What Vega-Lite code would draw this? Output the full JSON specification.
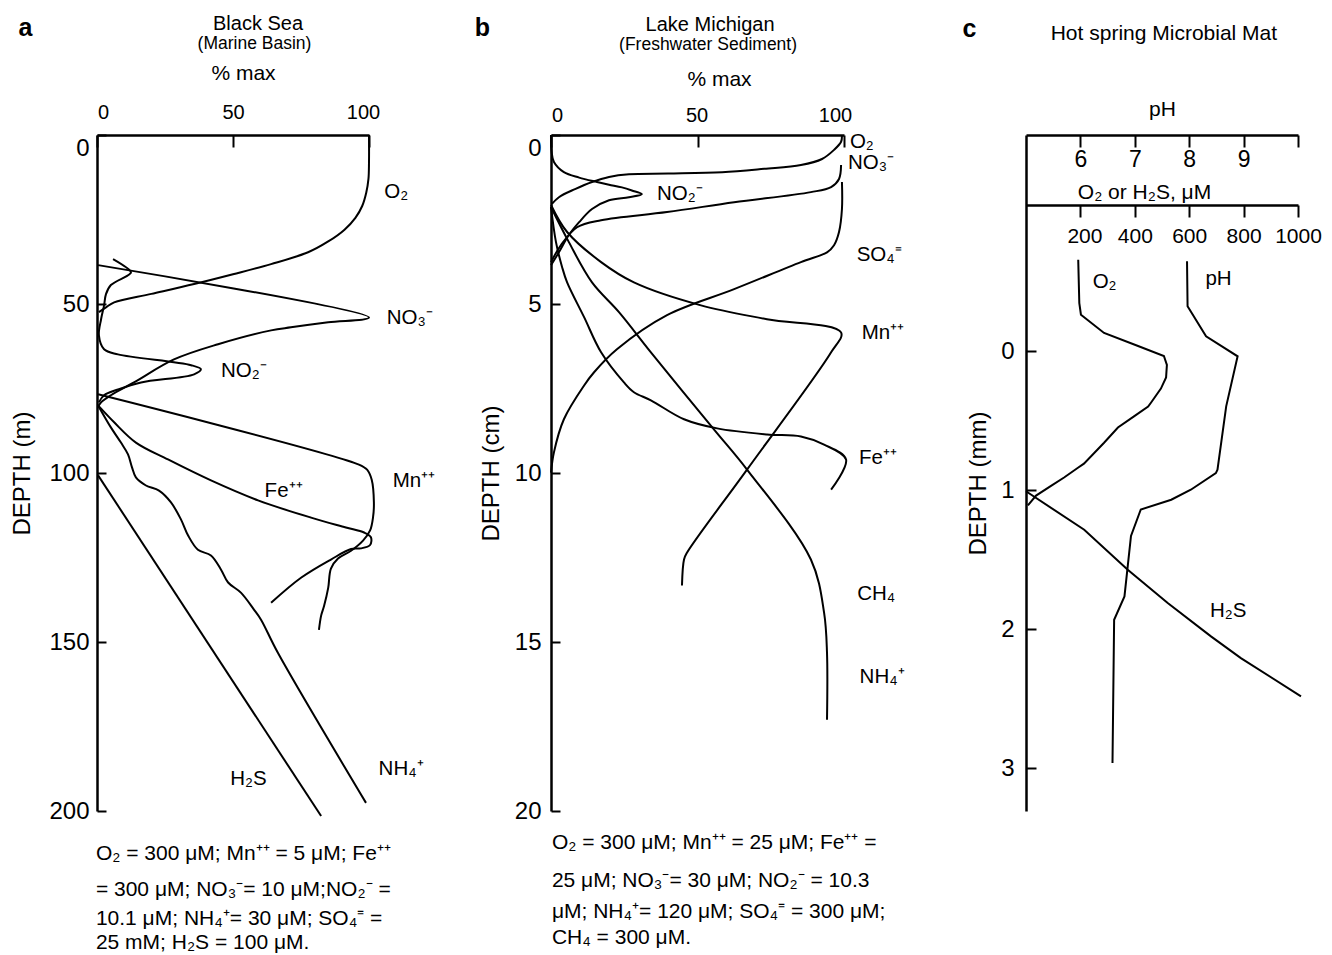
{
"$schema": "https://vega.github.io/schema/vega-lite/v6.json",
"background": "white",
"padding": {"left": 10, "top": 13, "right": 2, "bottom": 2},
"spacing": 182,
"bounds": "flush",
"config": {
  "font": "Liberation Sans",
  "view": {"stroke": null},
  "axis": {"domainColor": "black", "domainWidth": 2.5, "tickColor": "black", "tickWidth": 2, "labelColor": "black", "titleColor": "black", "grid": false, "labelFont": "Liberation Sans", "titleFont": "Liberation Sans", "titleFontWeight": "normal", "minExtent": 0, "labelFlush": false, "labelOverlap": false, "labelBound": false, "format": "d"}
},
"datasets": {
  "a_lines": [
    {"s":"O2","i":1,"x":100,"d":0},{"s":"O2","i":2,"x":100,"d":8},{"s":"O2","i":3,"x":99.8,"d":13},{"s":"O2","i":4,"x":99,"d":17},{"s":"O2","i":5,"x":97.5,"d":21},{"s":"O2","i":6,"x":95,"d":24.5},{"s":"O2","i":7,"x":91,"d":28},{"s":"O2","i":8,"x":85,"d":31.5},{"s":"O2","i":9,"x":77.6,"d":34.7},{"s":"O2","i":10,"x":64,"d":38.2},{"s":"O2","i":11,"x":50,"d":41.2},{"s":"O2","i":12,"x":35.7,"d":44.1},{"s":"O2","i":13,"x":20,"d":47},{"s":"O2","i":14,"x":6.3,"d":49.5},{"s":"O2","i":15,"x":3.3,"d":51},{"s":"O2","i":16,"x":0.7,"d":52.4},
    {"s":"NO3","i":1,"x":0.4,"d":38.5},{"s":"NO3","i":2,"x":100,"d":54},{"s":"NO3","i":3,"x":85,"d":55.4},{"s":"NO3","i":4,"x":71.3,"d":56.9},{"s":"NO3","i":5,"x":64,"d":57.8},{"s":"NO3","i":6,"x":44.5,"d":61.9},{"s":"NO3","i":7,"x":28.3,"d":66.4},{"s":"NO3","i":8,"x":13.6,"d":73.2},{"s":"NO3","i":9,"x":5.1,"d":77},{"s":"NO3","i":10,"x":1.5,"d":79.1},{"s":"NO3","i":11,"x":0.3,"d":80.5},
    {"s":"NO2","i":1,"x":5.9,"d":36.7},{"s":"NO2","i":2,"x":12.5,"d":40.6},{"s":"NO2","i":3,"x":11.4,"d":41.5},{"s":"NO2","i":4,"x":5.1,"d":44.4},{"s":"NO2","i":5,"x":3.3,"d":47.1},{"s":"NO2","i":6,"x":2.6,"d":50.4},{"s":"NO2","i":7,"x":1.5,"d":54.5},{"s":"NO2","i":8,"x":0.7,"d":59.3},{"s":"NO2","i":9,"x":2.6,"d":63.4},{"s":"NO2","i":10,"x":7.7,"d":64.9},{"s":"NO2","i":11,"x":34.6,"d":68.1},{"s":"NO2","i":12,"x":38.2,"d":69.3},{"s":"NO2","i":13,"x":35.7,"d":70.8},{"s":"NO2","i":14,"x":16.2,"d":73.2},{"s":"NO2","i":15,"x":7.7,"d":75.3},{"s":"NO2","i":16,"x":2.6,"d":77},{"s":"NO2","i":17,"x":0.7,"d":79.1},
    {"s":"Mn","i":1,"x":0.4,"d":76.7},{"s":"Mn","i":2,"x":96.3,"d":97.5},{"s":"Mn","i":3,"x":99.3,"d":99},{"s":"Mn","i":4,"x":101,"d":102},{"s":"Mn","i":5,"x":101.8,"d":108.7},{"s":"Mn","i":6,"x":101.5,"d":113},{"s":"Mn","i":7,"x":100.4,"d":117},{"s":"Mn","i":8,"x":97.8,"d":120},{"s":"Mn","i":9,"x":93.4,"d":123},{"s":"Mn","i":10,"x":88.6,"d":125.3},{"s":"Mn","i":11,"x":86,"d":128.3},{"s":"Mn","i":12,"x":85,"d":134},{"s":"Mn","i":13,"x":83.5,"d":139.3},{"s":"Mn","i":14,"x":82.4,"d":142.2},{"s":"Mn","i":15,"x":81.6,"d":146.4},
    {"s":"Fe","i":1,"x":0.4,"d":80},{"s":"Fe","i":2,"x":6.3,"d":85},{"s":"Fe","i":3,"x":14.3,"d":91},{"s":"Fe","i":4,"x":26.1,"d":96},{"s":"Fe","i":5,"x":41.9,"d":102.2},{"s":"Fe","i":6,"x":59.2,"d":108.1},{"s":"Fe","i":7,"x":78.7,"d":113.2},{"s":"Fe","i":8,"x":91.5,"d":116.1},{"s":"Fe","i":9,"x":98.2,"d":117.6},{"s":"Fe","i":10,"x":100.7,"d":119},{"s":"Fe","i":11,"x":100.4,"d":121.3},{"s":"Fe","i":12,"x":97,"d":122.3},{"s":"Fe","i":13,"x":93.4,"d":122.5},{"s":"Fe","i":14,"x":86,"d":125.6},{"s":"Fe","i":15,"x":75,"d":131},{"s":"Fe","i":16,"x":64,"d":138.4},
    {"s":"NH4","i":1,"x":0.4,"d":80},{"s":"NH4","i":2,"x":5.1,"d":86.5},{"s":"NH4","i":3,"x":8.8,"d":91},{"s":"NH4","i":4,"x":11.4,"d":94.5},{"s":"NH4","i":5,"x":12.9,"d":98.4},{"s":"NH4","i":6,"x":14.3,"d":101.3},{"s":"NH4","i":7,"x":18,"d":103.7},{"s":"NH4","i":8,"x":22.8,"d":105.2},{"s":"NH4","i":9,"x":27.2,"d":108.7},{"s":"NH4","i":10,"x":30.9,"d":113.8},{"s":"NH4","i":11,"x":33.5,"d":118.5},{"s":"NH4","i":12,"x":37.1,"d":122.7},{"s":"NH4","i":13,"x":41.9,"d":124.4},{"s":"NH4","i":14,"x":45.6,"d":128.6},{"s":"NH4","i":15,"x":48.2,"d":132.4},{"s":"NH4","i":16,"x":52.9,"d":135.4},{"s":"NH4","i":17,"x":57.7,"d":140.4},{"s":"NH4","i":18,"x":60.3,"d":143.4},{"s":"NH4","i":19,"x":66.5,"d":153.2},{"s":"NH4","i":20,"x":98.9,"d":197.6},
    {"s":"H2S","i":1,"x":0.4,"d":100.7},{"s":"H2S","i":2,"x":82.4,"d":201.5}
  ],
  "a_text": [
    {"k":"lab","t":"O₂","x":110,"d":16.9},
    {"k":"lab","t":"NO₃⁻","x":115,"d":54.2},
    {"k":"lab","t":"NO₂⁻","x":54,"d":69.8},
    {"k":"lab","t":"Mn⁺⁺","x":116.5,"d":102.5},
    {"k":"lab","t":"Fe⁺⁺","x":68.6,"d":105.2},
    {"k":"lab","t":"NH₄⁺","x":111.8,"d":187.6},
    {"k":"lab","t":"H₂S","x":55.7,"d":190.5},
    {"k":"title","t":"Black Sea","x":59.2,"d":-32.9},
    {"k":"sub","t":"(Marine Basin)","x":57.9,"d":-26.96},
    {"k":"letter","t":"a","x":-26.3,"d":-31.7},
    {"k":"note","t":"O₂ = 300 μM; Mn⁺⁺ = 5 μM; Fe⁺⁺","x":-0.4,"d":212.6},
    {"k":"note","t":"= 300 μM; NO₃⁻= 10 μM;NO₂⁻ =","x":-0.4,"d":223.4},
    {"k":"note","t":"10.1 μM; NH₄⁺= 30 μM; SO₄⁼ =","x":-0.4,"d":232},
    {"k":"note","t":"25 mM;  H₂S = 100 μM.","x":-0.4,"d":239}
  ],
  "b_lines": [
    {"s":"O2","i":1,"x":99.3,"d":0},{"s":"O2","i":2,"x":99,"d":0.2},{"s":"O2","i":3,"x":96.6,"d":0.44},{"s":"O2","i":4,"x":92.5,"d":0.71},{"s":"O2","i":5,"x":85.3,"d":0.89},{"s":"O2","i":6,"x":72.7,"d":1.0},{"s":"O2","i":7,"x":58.4,"d":1.1},{"s":"O2","i":8,"x":40,"d":1.14},{"s":"O2","i":9,"x":26.6,"d":1.16},{"s":"O2","i":10,"x":19.8,"d":1.24},{"s":"O2","i":11,"x":14,"d":1.39},{"s":"O2","i":12,"x":8.2,"d":1.6},{"s":"O2","i":13,"x":2.7,"d":1.84},{"s":"O2","i":14,"x":0.3,"d":2.04},
    {"s":"NO2","i":1,"x":0,"d":0},{"s":"NO2","i":2,"x":0.2,"d":0.5},{"s":"NO2","i":3,"x":1,"d":0.8},{"s":"NO2","i":4,"x":4.4,"d":1.1},{"s":"NO2","i":5,"x":9.6,"d":1.26},{"s":"NO2","i":6,"x":15.7,"d":1.39},{"s":"NO2","i":7,"x":19.8,"d":1.47},{"s":"NO2","i":8,"x":24.2,"d":1.55},{"s":"NO2","i":9,"x":27.6,"d":1.64},{"s":"NO2","i":10,"x":31,"d":1.75},{"s":"NO2","i":11,"x":26.6,"d":1.84},{"s":"NO2","i":12,"x":19.8,"d":1.93},{"s":"NO2","i":13,"x":14,"d":2.19},{"s":"NO2","i":14,"x":9.6,"d":2.58},{"s":"NO2","i":15,"x":6.1,"d":2.96},{"s":"NO2","i":16,"x":2.7,"d":3.47},{"s":"NO2","i":17,"x":0,"d":3.85},
    {"s":"NO3","i":1,"x":99,"d":0.89},{"s":"NO3","i":2,"x":98.3,"d":1.3},{"s":"NO3","i":3,"x":95.6,"d":1.54},{"s":"NO3","i":4,"x":88.7,"d":1.69},{"s":"NO3","i":5,"x":62.5,"d":1.99},{"s":"NO3","i":6,"x":39.6,"d":2.28},{"s":"NO3","i":7,"x":17.1,"d":2.52},{"s":"NO3","i":8,"x":8.9,"d":2.73},{"s":"NO3","i":9,"x":3.4,"d":3.26},{"s":"NO3","i":10,"x":0,"d":3.76},
    {"s":"SO4","i":1,"x":99.3,"d":1.39},{"s":"SO4","i":2,"x":99.3,"d":2.19},{"s":"SO4","i":3,"x":98.3,"d":2.87},{"s":"SO4","i":4,"x":96.6,"d":3.26},{"s":"SO4","i":5,"x":94.2,"d":3.47},{"s":"SO4","i":6,"x":85.3,"d":3.76},{"s":"SO4","i":7,"x":62.5,"d":4.56},{"s":"SO4","i":8,"x":39.6,"d":5.33},{"s":"SO4","i":9,"x":22.5,"d":6.34},{"s":"SO4","i":10,"x":14.7,"d":7.02},{"s":"SO4","i":11,"x":11.3,"d":7.41},{"s":"SO4","i":12,"x":4.4,"d":8.41},{"s":"SO4","i":13,"x":1,"d":9.39},{"s":"SO4","i":14,"x":0,"d":9.99},
    {"s":"Mn","i":1,"x":0,"d":2.07},{"s":"Mn","i":2,"x":5.5,"d":2.87},{"s":"Mn","i":3,"x":17.1,"d":3.76},{"s":"Mn","i":4,"x":28.3,"d":4.36},{"s":"Mn","i":5,"x":51.2,"d":5.04},{"s":"Mn","i":6,"x":73.7,"d":5.45},{"s":"Mn","i":7,"x":99,"d":5.84},{"s":"Mn","i":8,"x":95.6,"d":6.43},{"s":"Mn","i":9,"x":66.9,"d":9.9},{"s":"Mn","i":10,"x":46.4,"d":12.36},{"s":"Mn","i":11,"x":45.4,"d":12.56},{"s":"Mn","i":12,"x":44.7,"d":13.33},
    {"s":"Fe","i":1,"x":0,"d":2.13},{"s":"Fe","i":2,"x":1.7,"d":3.17},{"s":"Fe","i":3,"x":3.8,"d":3.91},{"s":"Fe","i":4,"x":5.5,"d":4.36},{"s":"Fe","i":5,"x":11.3,"d":5.39},{"s":"Fe","i":6,"x":17.1,"d":6.43},{"s":"Fe","i":7,"x":24.9,"d":7.32},{"s":"Fe","i":8,"x":28.3,"d":7.61},{"s":"Fe","i":9,"x":34.1,"d":7.85},{"s":"Fe","i":10,"x":45.4,"d":8.41},{"s":"Fe","i":11,"x":56.7,"d":8.68},{"s":"Fe","i":12,"x":73.7,"d":8.86},{"s":"Fe","i":13,"x":85.3,"d":8.92},{"s":"Fe","i":14,"x":93.2,"d":9.16},{"s":"Fe","i":15,"x":100.7,"d":9.6},{"s":"Fe","i":16,"x":95.6,"d":10.49},
    {"s":"CH4","i":1,"x":0,"d":2.13},{"s":"CH4","i":2,"x":6.1,"d":3.17},{"s":"CH4","i":3,"x":14,"d":4.36},{"s":"CH4","i":4,"x":23.2,"d":5.24},{"s":"CH4","i":5,"x":34.1,"d":6.43},{"s":"CH4","i":6,"x":55.6,"d":8.71},{"s":"CH4","i":7,"x":66.9,"d":9.9},{"s":"CH4","i":8,"x":88.7,"d":12.56},{"s":"CH4","i":9,"x":93.2,"d":14.13},{"s":"CH4","i":10,"x":94.2,"d":15.32},{"s":"CH4","i":11,"x":94.2,"d":17.3}
  ],
  "b_text": [
    {"k":"lab","t":"O₂","x":106.1,"d":0.21},
    {"k":"lab","t":"NO₃⁻","x":109.2,"d":0.83},
    {"k":"lab","t":"NO₂⁻","x":44,"d":1.75},
    {"k":"lab","t":"SO₄⁼","x":112,"d":3.56},
    {"k":"lab","t":"Mn⁺⁺","x":113.3,"d":5.87},
    {"k":"lab","t":"Fe⁺⁺","x":111.6,"d":9.57},
    {"k":"lab","t":"CH₄","x":111,"d":13.57},
    {"k":"lab","t":"NH₄⁺","x":113,"d":16.03},
    {"k":"title","t":"Lake Michigan","x":54.3,"d":-3.26},
    {"k":"sub","t":"(Freshwater Sediment)","x":53.6,"d":-2.667},
    {"k":"letter","t":"b","x":-23.4,"d":-3.17},
    {"k":"note","t":"O₂ = 300 μM; Mn⁺⁺ = 25 μM; Fe⁺⁺ =","x":0.3,"d":20.96},
    {"k":"note","t":"25 μM; NO₃⁻= 30 μM; NO₂⁻ = 10.3","x":0.3,"d":22.07},
    {"k":"note","t":"μM; NH₄⁺= 120 μM; SO₄⁼ = 300 μM;","x":0.3,"d":22.98},
    {"k":"note","t":"CH₄ = 300 μM.","x":0.3,"d":23.75}
  ],
  "c_um": [
    {"s":"O2","i":1,"v":192,"d":-0.657},{"s":"O2","i":2,"v":196,"d":-0.345},{"s":"O2","i":3,"v":202,"d":-0.261},{"s":"O2","i":4,"v":287,"d":-0.13},{"s":"O2","i":5,"v":412,"d":-0.036},{"s":"O2","i":6,"v":507,"d":0.036},{"s":"O2","i":7,"v":518,"d":0.1},{"s":"O2","i":8,"v":515,"d":0.19},{"s":"O2","i":9,"v":496,"d":0.27},{"s":"O2","i":10,"v":460,"d":0.37},{"s":"O2","i":11,"v":449,"d":0.4},{"s":"O2","i":12,"v":397,"d":0.47},{"s":"O2","i":13,"v":338,"d":0.55},{"s":"O2","i":14,"v":287,"d":0.66},{"s":"O2","i":15,"v":213,"d":0.81},{"s":"O2","i":16,"v":191,"d":0.84},{"s":"O2","i":17,"v":140,"d":0.91},{"s":"O2","i":18,"v":92,"d":0.97},{"s":"O2","i":19,"v":37,"d":1.04},{"s":"O2","i":20,"v":7,"d":1.11},
    {"s":"H2S","i":1,"v":0,"d":1.009},{"s":"H2S","i":2,"v":214,"d":1.286},{"s":"H2S","i":3,"v":374,"d":1.573},{"s":"H2S","i":4,"v":521,"d":1.813},{"s":"H2S","i":5,"v":680,"d":2.053},{"s":"H2S","i":6,"v":790,"d":2.209},{"s":"H2S","i":7,"v":1011,"d":2.484}
  ],
  "c_ph": [
    {"i":1,"ph":7.96,"d":-0.645},{"i":2,"ph":7.97,"d":-0.322},{"i":3,"ph":8.31,"d":-0.106},{"i":4,"ph":8.89,"d":0.038},{"i":5,"ph":8.68,"d":0.398},{"i":6,"ph":8.52,"d":0.854},{"i":7,"ph":8.49,"d":0.878},{"i":8,"ph":8.03,"d":0.998},{"i":9,"ph":7.67,"d":1.07},{"i":10,"ph":7.11,"d":1.14},{"i":11,"ph":6.93,"d":1.33},{"i":12,"ph":6.81,"d":1.765},{"i":13,"ph":6.62,"d":1.933},{"i":14,"ph":6.59,"d":2.964}
  ],
  "c_text": [
    {"k":"lab","t":"O₂","v":289,"d":-0.496},
    {"k":"lab","t":"pH","v":708,"d":-0.518},
    {"k":"lab","t":"H₂S","v":743,"d":1.87},
    {"k":"title","t":"Hot spring Microbial Mat","v":507,"d":-2.28},
    {"k":"letter","t":"c","v":-208,"d":-2.32}
  ]
},
"hconcat": [
  {
    "width": 272, "height": 676,
    "layer": [
      {
        "data": {"name": "a_lines"},
        "mark": {"type": "line", "interpolate": "catmull-rom", "strokeWidth": 2, "color": "black"},
        "encoding": {
          "x": {"field": "x", "type": "quantitative", "scale": {"domain": [0, 100], "nice": false, "zero": false},
            "axis": {"orient": "top", "values": [0, 50, 100], "tickSize": -12, "labelPadding": 25, "labelFontSize": 20,
              "labelOffset": {"condition": [{"test": "datum.value == 0", "value": 6}, {"test": "datum.value == 100", "value": -6}], "value": 0},
              "title": "% max", "titleFontSize": 21, "titlePadding": 19, "titleX": 146}},
          "y": {"field": "d", "type": "quantitative", "scale": {"domain": [0, 200], "reverse": true, "nice": false, "zero": false},
            "axis": {"orient": "left", "values": [0, 50, 100, 150, 200], "tickSize": -9, "labelPadding": 17, "labelFontSize": 24,
              "labelOffset": {"condition": {"test": "datum.value == 0", "value": 13}, "value": 0},
              "title": "DEPTH (m)", "titleFontSize": 24, "titlePadding": 14}},
          "detail": {"field": "s", "type": "nominal"},
          "order": {"field": "i", "type": "quantitative"}
        }
      },
      {
        "data": {"name": "a_text"}, "transform": [{"filter": "datum.k == 'lab'"}],
        "mark": {"type": "text", "fontSize": 20.5, "baseline": "middle", "align": "center", "color": "black"},
        "encoding": {"x": {"field": "x", "type": "quantitative"}, "y": {"field": "d", "type": "quantitative"}, "text": {"field": "t"}}
      },
      {
        "data": {"name": "a_text"}, "transform": [{"filter": "datum.k == 'title'"}],
        "mark": {"type": "text", "fontSize": 20, "baseline": "middle", "align": "center", "color": "black"},
        "encoding": {"x": {"field": "x", "type": "quantitative"}, "y": {"field": "d", "type": "quantitative"}, "text": {"field": "t"}}
      },
      {
        "data": {"name": "a_text"}, "transform": [{"filter": "datum.k == 'sub'"}],
        "mark": {"type": "text", "fontSize": 17.5, "baseline": "middle", "align": "center", "color": "black"},
        "encoding": {"x": {"field": "x", "type": "quantitative"}, "y": {"field": "d", "type": "quantitative"}, "text": {"field": "t"}}
      },
      {
        "data": {"name": "a_text"}, "transform": [{"filter": "datum.k == 'letter'"}],
        "mark": {"type": "text", "fontSize": 25, "fontWeight": "bold", "baseline": "middle", "align": "center", "color": "black"},
        "encoding": {"x": {"field": "x", "type": "quantitative"}, "y": {"field": "d", "type": "quantitative"}, "text": {"field": "t"}}
      },
      {
        "data": {"name": "a_text"}, "transform": [{"filter": "datum.k == 'note'"}],
        "mark": {"type": "text", "fontSize": 21, "baseline": "middle", "align": "left", "color": "black"},
        "encoding": {"x": {"field": "x", "type": "quantitative"}, "y": {"field": "d", "type": "quantitative"}, "text": {"field": "t"}}
      }
    ]
  },
  {
    "width": 293, "height": 676,
    "layer": [
      {
        "data": {"name": "b_lines"},
        "mark": {"type": "line", "interpolate": "catmull-rom", "strokeWidth": 2, "color": "black"},
        "encoding": {
          "x": {"field": "x", "type": "quantitative", "scale": {"domain": [0, 100], "nice": false, "zero": false},
            "axis": {"orient": "top", "values": [0, 50, 100], "tickSize": -12, "labelPadding": 22, "labelFontSize": 20,
              "labelOffset": {"condition": [{"test": "datum.value == 0", "value": 6}, {"test": "datum.value == 100", "value": -9}], "value": -1},
              "title": "% max", "titleFontSize": 21, "titlePadding": 16, "titleX": 168}},
          "y": {"field": "d", "type": "quantitative", "scale": {"domain": [0, 20], "reverse": true, "nice": false, "zero": false},
            "axis": {"orient": "left", "values": [0, 5, 10, 15, 20], "tickSize": -9, "labelPadding": 19, "labelFontSize": 24,
              "labelOffset": {"condition": {"test": "datum.value == 0", "value": 13}, "value": 0},
              "title": "DEPTH (cm)", "titleFontSize": 24, "titlePadding": 11}},
          "detail": {"field": "s", "type": "nominal"},
          "order": {"field": "i", "type": "quantitative"}
        }
      },
      {
        "data": {"name": "b_text"}, "transform": [{"filter": "datum.k == 'lab'"}],
        "mark": {"type": "text", "fontSize": 20.5, "baseline": "middle", "align": "center", "color": "black"},
        "encoding": {"x": {"field": "x", "type": "quantitative"}, "y": {"field": "d", "type": "quantitative"}, "text": {"field": "t"}}
      },
      {
        "data": {"name": "b_text"}, "transform": [{"filter": "datum.k == 'title'"}],
        "mark": {"type": "text", "fontSize": 20, "baseline": "middle", "align": "center", "color": "black"},
        "encoding": {"x": {"field": "x", "type": "quantitative"}, "y": {"field": "d", "type": "quantitative"}, "text": {"field": "t"}}
      },
      {
        "data": {"name": "b_text"}, "transform": [{"filter": "datum.k == 'sub'"}],
        "mark": {"type": "text", "fontSize": 17.5, "baseline": "middle", "align": "center", "color": "black"},
        "encoding": {"x": {"field": "x", "type": "quantitative"}, "y": {"field": "d", "type": "quantitative"}, "text": {"field": "t"}}
      },
      {
        "data": {"name": "b_text"}, "transform": [{"filter": "datum.k == 'letter'"}],
        "mark": {"type": "text", "fontSize": 25, "fontWeight": "bold", "baseline": "middle", "align": "center", "color": "black"},
        "encoding": {"x": {"field": "x", "type": "quantitative"}, "y": {"field": "d", "type": "quantitative"}, "text": {"field": "t"}}
      },
      {
        "data": {"name": "b_text"}, "transform": [{"filter": "datum.k == 'note'"}],
        "mark": {"type": "text", "fontSize": 21, "baseline": "middle", "align": "left", "color": "black"},
        "encoding": {"x": {"field": "x", "type": "quantitative"}, "y": {"field": "d", "type": "quantitative"}, "text": {"field": "t"}}
      }
    ]
  },
  {
    "width": 272, "height": 676,
    "resolve": {"scale": {"x": "independent"}, "axis": {"x": "independent"}},
    "layer": [
      {
        "data": {"name": "c_um"},
        "mark": {"type": "line", "strokeWidth": 2, "color": "black"},
        "encoding": {
          "x": {"field": "v", "type": "quantitative", "scale": {"domain": [0, 1000], "nice": false, "zero": false},
            "axis": {"orient": "top", "offset": -70, "values": [200, 400, 600, 800, 1000], "tickSize": -12, "labelPadding": -19, "labelBaseline": "middle", "labelFontSize": 21,
              "labelOffset": {"condition": {"test": "datum.value == 200", "value": 4}, "value": 0},
              "title": "O₂ or H₂S, μM", "titleFontSize": 21, "titlePadding": 2, "titleX": 118}},
          "y": {"field": "d", "type": "quantitative", "scale": {"domain": [-1.554, 3.309], "reverse": true, "nice": false, "zero": false},
            "axis": {"orient": "left", "values": [0, 1, 2, 3], "tickSize": -10, "labelPadding": 22, "labelFontSize": 24,
              "title": "DEPTH (mm)", "titleFontSize": 24, "titlePadding": 10, "titleY": 348}},
          "detail": {"field": "s", "type": "nominal"},
          "order": {"field": "i", "type": "quantitative"}
        }
      },
      {
        "data": {"name": "c_ph"},
        "mark": {"type": "line", "strokeWidth": 2, "color": "black"},
        "encoding": {
          "x": {"field": "ph", "type": "quantitative", "scale": {"domain": [5, 10], "nice": false, "zero": false},
            "axis": {"orient": "top", "values": [6, 7, 8, 9, 10], "tickSize": -12, "labelPadding": -12, "labelBaseline": "middle", "labelFontSize": 23,
              "labelExpr": "datum.value == 10 ? '' : datum.label",
              "title": "pH", "titleFontSize": 21, "titlePadding": 15}},
          "y": {"field": "d", "type": "quantitative"},
          "order": {"field": "i", "type": "quantitative"}
        }
      },
      {
        "data": {"name": "c_text"}, "transform": [{"filter": "datum.k == 'lab'"}],
        "mark": {"type": "text", "fontSize": 20.5, "baseline": "middle", "align": "center", "color": "black"},
        "encoding": {"x": {"field": "v", "type": "quantitative", "scale": {"domain": [0, 1000], "nice": false, "zero": false}, "axis": null}, "y": {"field": "d", "type": "quantitative"}, "text": {"field": "t"}}
      },
      {
        "data": {"name": "c_text"}, "transform": [{"filter": "datum.k == 'title'"}],
        "mark": {"type": "text", "fontSize": 21, "baseline": "middle", "align": "center", "color": "black"},
        "encoding": {"x": {"field": "v", "type": "quantitative", "scale": {"domain": [0, 1000], "nice": false, "zero": false}, "axis": null}, "y": {"field": "d", "type": "quantitative"}, "text": {"field": "t"}}
      },
      {
        "data": {"name": "c_text"}, "transform": [{"filter": "datum.k == 'letter'"}],
        "mark": {"type": "text", "fontSize": 25, "fontWeight": "bold", "baseline": "middle", "align": "center", "color": "black"},
        "encoding": {"x": {"field": "v", "type": "quantitative", "scale": {"domain": [0, 1000], "nice": false, "zero": false}, "axis": null}, "y": {"field": "d", "type": "quantitative"}, "text": {"field": "t"}}
      }
    ]
  }
]
}
